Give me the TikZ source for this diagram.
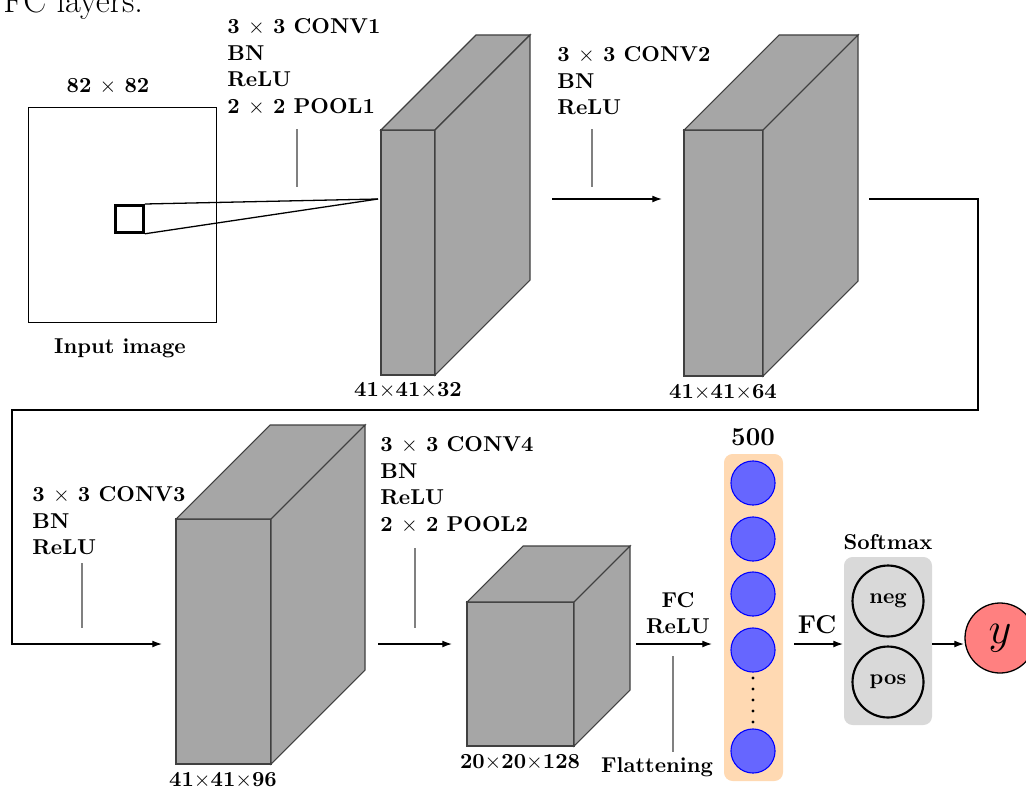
\documentclass[tikz,border=0pt]{standalone}
\usetikzlibrary{arrows.meta}
\newcommand\mycube[6]{%
  \node[cubeface, anchor=north west, minimum width={#4*0.465pt}, minimum height={#5*0.465pt}, inner sep=0pt, outer sep=0pt] (#1) at (#2,#3) {};
  \filldraw[cubeface] (#1.north west) -- ++(#6,-#6) -- ++(#4,0) -- (#1.north east) -- cycle;
  \filldraw[cubeface] (#1.north east) -- ++(#6,-#6) -- ++(0,#5) -- (#1.south east) -- cycle;
}
\begin{document}
\begin{tikzpicture}[x=0.465pt,y=-0.465pt,
  lbl/.style={font=\bfseries, inner sep=0pt},
  blk/.style={font=\bfseries\fontsize{10}{12.4}\selectfont, align=left, inner sep=0pt, anchor=north west},
  tick/.style={draw=gray, line width=0.5pt},
  arr/.style={-{Latex[length=4.5pt,width=3.2pt]}, line width=0.6pt},
  cubeface/.style={fill=gray!70, draw=black!75, line width=0.5pt},
  neuron/.style={circle, fill=blue!60, draw=blue, line width=0.5pt, minimum size=20.5pt, inner sep=0pt},
  smx/.style={circle, draw=black, line width=1pt, fill=gray!30, minimum size=33pt, inner sep=0pt, font=\bfseries}
]
\useasboundingbox (0,0) rectangle (1026,789);
\fill[white] (0,0) rectangle (1026,789);

% cut-off caption text at the top
\node[anchor=base west, inner sep=0pt, font=\fontsize{16}{19}\selectfont] (cap) at (3,13) {FC layers.};

% input image
\node[draw, line width=0.6pt, minimum width={188*0.465pt}, minimum height={215*0.465pt}, inner sep=0pt, anchor=north west] (img) at (28,107) {};
\node[draw, line width=1.3pt, minimum width={28*0.465pt}, minimum height={27*0.465pt}, inner sep=0pt, anchor=north west] (sq) at (114,204) {};
\node[lbl] (imgsz) at (108,86) {82 $\times$ 82};
\node[lbl] (imglbl) at (120,348) {Input image};

% cubes
\mycube{c1}{381}{130}{54}{245}{95}
\mycube{c2}{684}{130}{79}{246}{95}
\mycube{c3}{176}{519}{95}{245}{94}
\mycube{c4}{467}{602}{107}{144}{56}

\node[lbl] (c1lbl) at (408,390) {41$\times$41$\times$32};
\node[lbl] (c2lbl) at (723,392) {41$\times$41$\times$64};
\node[lbl] (c3lbl) at (223,780) {41$\times$41$\times$96};
\node[lbl] (c4lbl) at (520,762) {20$\times$20$\times$128};

% receptive field lines
\coordinate (c1tip) at (378,199);
\draw[line width=0.6pt] (sq.north east) -- (c1tip);
\draw[line width=0.6pt] (sq.south east) -- (c1tip);

% layer labels
\node[blk] (l1) at (227,18) {3 $\times$ 3 CONV1\\BN\\ReLU\\2 $\times$ 2 POOL1};
\coordinate (t1a) at (297,129); \coordinate (t1b) at (297,187);
\draw[tick] (t1a) -- (t1b);

\node[blk] (l2) at (557,46) {3 $\times$ 3 CONV2\\BN\\ReLU};
\coordinate (t2a) at (592,129); \coordinate (t2b) at (592,187);
\draw[tick] (t2a) -- (t2b);
\coordinate (a2s) at (552,199); \coordinate (a2e) at (662,199);
\draw[arr] (a2s) -- (a2e);

% long connector
\coordinate (a3s) at (869,199);
\coordinate (a3e) at (162,644);
\draw[arr] (a3s) -- (978,199) -- (978,410) -- (12,410) -- (12,644) -- (a3e);

\node[blk] (l3) at (32,486) {3 $\times$ 3 CONV3\\BN\\ReLU};
\coordinate (t3a) at (82,563); \coordinate (t3b) at (82,628);
\draw[tick] (t3a) -- (t3b);

\node[blk] (l4) at (380,436) {3 $\times$ 3 CONV4\\BN\\ReLU\\2 $\times$ 2 POOL2};
\coordinate (t4a) at (415,548); \coordinate (t4b) at (415,628);
\draw[tick] (t4a) -- (t4b);
\coordinate (a4s) at (378,644); \coordinate (a4e) at (452,644);
\draw[arr] (a4s) -- (a4e);

% flattening
\node[lbl, align=center, font=\bfseries\fontsize{10}{12.4}\selectfont] (fcr) at (678,613) {FC\\ReLU};
\coordinate (a5s) at (636,644); \coordinate (a5e) at (712,644);
\draw[arr] (a5s) -- (a5e);
\coordinate (t5a) at (673,656); \coordinate (t5b) at (673,752);
\draw[tick] (t5a) -- (t5b);
\node[lbl] (flat) at (657,767) {Flattening};

% FC layer
\node[fill=orange!30, rounded corners=4pt, minimum width={59*0.465pt}, minimum height={327*0.465pt}, inner sep=0pt] (fcbox) at (753.5,617.5) {};
\node[lbl, font=\bfseries\large] (n500) at (753,437) {500};
\node[neuron] (n1) at (753,483) {};
\node[neuron] (n2) at (753,539) {};
\node[neuron] (n3) at (753,594) {};
\node[neuron] (n4) at (753,650) {};
\node[neuron] (n5) at (753,751) {};
\foreach \yy in {678,689,700,711,722} \fill (753,\yy) circle[radius=1.6];

% FC to softmax
\coordinate (a6s) at (794,644); \coordinate (a6e) at (843,644);
\draw[arr] (a6s) -- (a6e);
\node[lbl, font=\bfseries\large] (fc2) at (817,625) {FC};

% softmax
\node[fill=gray!30, rounded corners=4pt, minimum width={88*0.465pt}, minimum height={168*0.465pt}, inner sep=0pt] (smbox) at (888,641) {};
\node[lbl] (smlbl) at (888,542) {Softmax};
\node[smx] (neg) at (888,601) {neg};
\node[smx] (pos) at (888,682) {pos};

% output
\node[circle, draw=black, line width=0.6pt, fill=red!50, minimum size={70*0.465pt}, inner sep=0pt, font=\fontsize{20}{24}\selectfont] (y) at (1000,638) {$y$};
\coordinate (a7s) at (932,644); \coordinate (a7e) at (964,644);
\draw[arr] (a7s) -- (a7e);
\end{tikzpicture}
\end{document}
